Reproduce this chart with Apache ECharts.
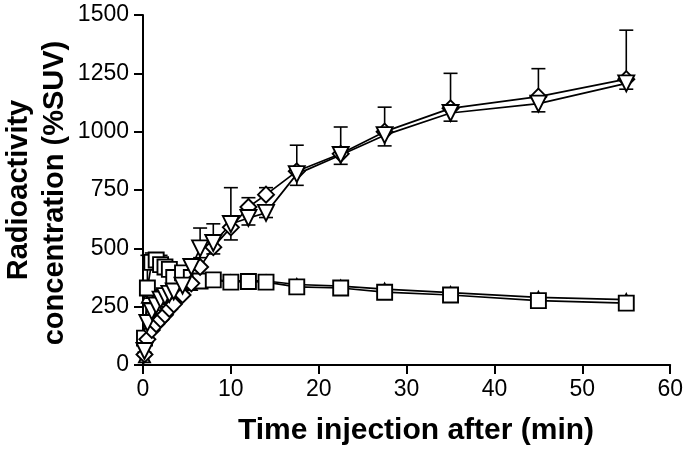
<!DOCTYPE html>
<html>
<head>
<meta charset="utf-8">
<script src="https://cdn.jsdelivr.net/npm/echarts@6/dist/echarts.min.js"></script>
<style>
html,body{margin:0;padding:0;background:#fff;}
#c{width:686px;height:456px;}
</style>
</head>
<body>
<div id="c"></div>
<script>
// Data (time in min, radioactivity concentration in %SUV)
const times      = [0.17, 0.5, 1, 1.5, 2, 2.5, 3, 3.5, 4.5, 5.5, 6.5, 8, 10, 12, 14, 17.5, 22.5, 27.5, 35, 45, 55];
const squareVals = [115, 330, 440, 450, 430, 420, 410, 375, 395, 375, 360, 365, 355, 358, 355, 335, 330, 312, 300, 276, 265];
const upTriVals  = [35, 290, 310, 300, 295, 300, 310, 320, 330, 345, 360, 365, 360, 362, 360, 345, 338, 325, 310, 290, 280];
const diamondVals= [45, 110, 150, 175, 195, 215, 240, 260, 300, 350, 420, 505, 590, 677, 730, 830, 905, 1000, 1100, 1150, 1225];
const downTriVals= [60, 180, 230, 255, 280, 295, 305, 315, 340, 420, 500, 523, 604, 630, 652, 818, 900, 985, 1080, 1120, 1207];
// error magnitudes (one-sided as drawn)
const squareErrUp  = [20, 140, 40, 30, 40, 30, 30, 30, 25, 20, 20, 15, 15, 15, 15, 10, 10, 10, 10, 10, 10];
const diamondErrUp = [10, 20, 30, 20, 20, 20, 20, 20, 30, 40, 167, 100, 170, 40, 30, 112, 115, 105, 150, 120, 210];
const downTriErrDn = [20, 40, 50, 40, 30, 30, 30, 30, 30, 40, 40, 47, 68, 30, 20, 48, 40, 46, 35, 35, 25];
const xTicks = [0, 10, 20, 30, 40, 50, 60];
const yTicks = [0, 250, 500, 750, 1000, 1250, 1500];

const pairs = v => times.map((t, i) => [t, v[i]]);
const FONT = 'Liberation Sans, Arial, sans-serif';

function errSeries(vals, errs, dir) {
  return {
    type: 'custom',
    z: 1,
    silent: true,
    data: times.map((t, i) => [t, vals[i], vals[i] + dir * errs[i]]),
    renderItem: function (params, api) {
      const p0 = api.coord([api.value(0), api.value(1)]);
      const p1 = api.coord([api.value(0), api.value(2)]);
      const hw = 7;
      return {
        type: 'group',
        children: [
          {type: 'line', shape: {x1: p0[0], y1: p0[1], x2: p1[0], y2: p1[1]}, style: {stroke: '#000', lineWidth: 1.6}},
          {type: 'line', shape: {x1: p1[0] - hw, y1: p1[1], x2: p1[0] + hw, y2: p1[1]}, style: {stroke: '#000', lineWidth: 1.6}}
        ]
      };
    }
  };
}

function lineSeries(vals, symbol, rot, size) {
  return {
    type: 'line',
    z: 3,
    data: pairs(vals),
    symbol: symbol,
    symbolRotate: rot,
    symbolSize: size,
    showAllSymbol: true,
    lineStyle: {color: '#000', width: 1.7},
    itemStyle: {color: '#fff', borderColor: '#000', borderWidth: 1.9},
    animation: false
  };
}

const chart = echarts.init(document.getElementById('c'), null, {renderer: 'canvas'});
chart.setOption({
  animation: false,
  backgroundColor: '#fff',
  grid: {left: 143, right: 8, top: 15, bottom: 91, containLabel: false},
  xAxis: {
    type: 'value', min: 0, max: 60, interval: 10,
    axisLine: {show: true, onZero: false, lineStyle: {color: '#000', width: 2}},
    axisTick: {show: true, length: 9, lineStyle: {color: '#000', width: 2}},
    axisLabel: {color: '#000', fontSize: 23, fontFamily: FONT, margin: 13,
      formatter: v => xTicks.includes(v) ? String(v) : ''},
    splitLine: {show: false}
  },
  yAxis: {
    type: 'value', min: 0, max: 1500, interval: 250,
    axisLine: {show: true, onZero: false, lineStyle: {color: '#000', width: 2}},
    axisTick: {show: true, length: 9, lineStyle: {color: '#000', width: 2}},
    axisLabel: {color: '#000', fontSize: 23, fontFamily: FONT, margin: 14,
      formatter: v => yTicks.includes(v) ? String(v) : ''},
    splitLine: {show: false}
  },
  graphic: [
    {type: 'text', x: 416, y: 431, style: {text: 'Time injection after (min)', font: 'bold 30px ' + FONT, fill: '#000', textAlign: 'center', textVerticalAlign: 'middle'}},
    {type: 'text', x: 19, y: 190, rotation: Math.PI / 2, style: {text: 'Radioactivity', font: 'bold 29px ' + FONT, fill: '#000', textAlign: 'center', textVerticalAlign: 'middle'}},
    {type: 'text', x: 55, y: 193, rotation: Math.PI / 2, style: {text: 'concentration (%SUV)', font: 'bold 29px ' + FONT, fill: '#000', textAlign: 'center', textVerticalAlign: 'middle'}}
  ],
  series: [
    errSeries(squareVals, squareErrUp, 1),
    errSeries(diamondVals, diamondErrUp, 1),
    errSeries(downTriVals, downTriErrDn, -1),
    lineSeries(upTriVals, 'triangle', 0, 11),
    lineSeries(squareVals, 'rect', 0, 15),
    lineSeries(diamondVals, 'diamond', 0, 16),
    lineSeries(downTriVals, 'triangle', 180, 16)
  ]
});
</script>
</body>
</html>
